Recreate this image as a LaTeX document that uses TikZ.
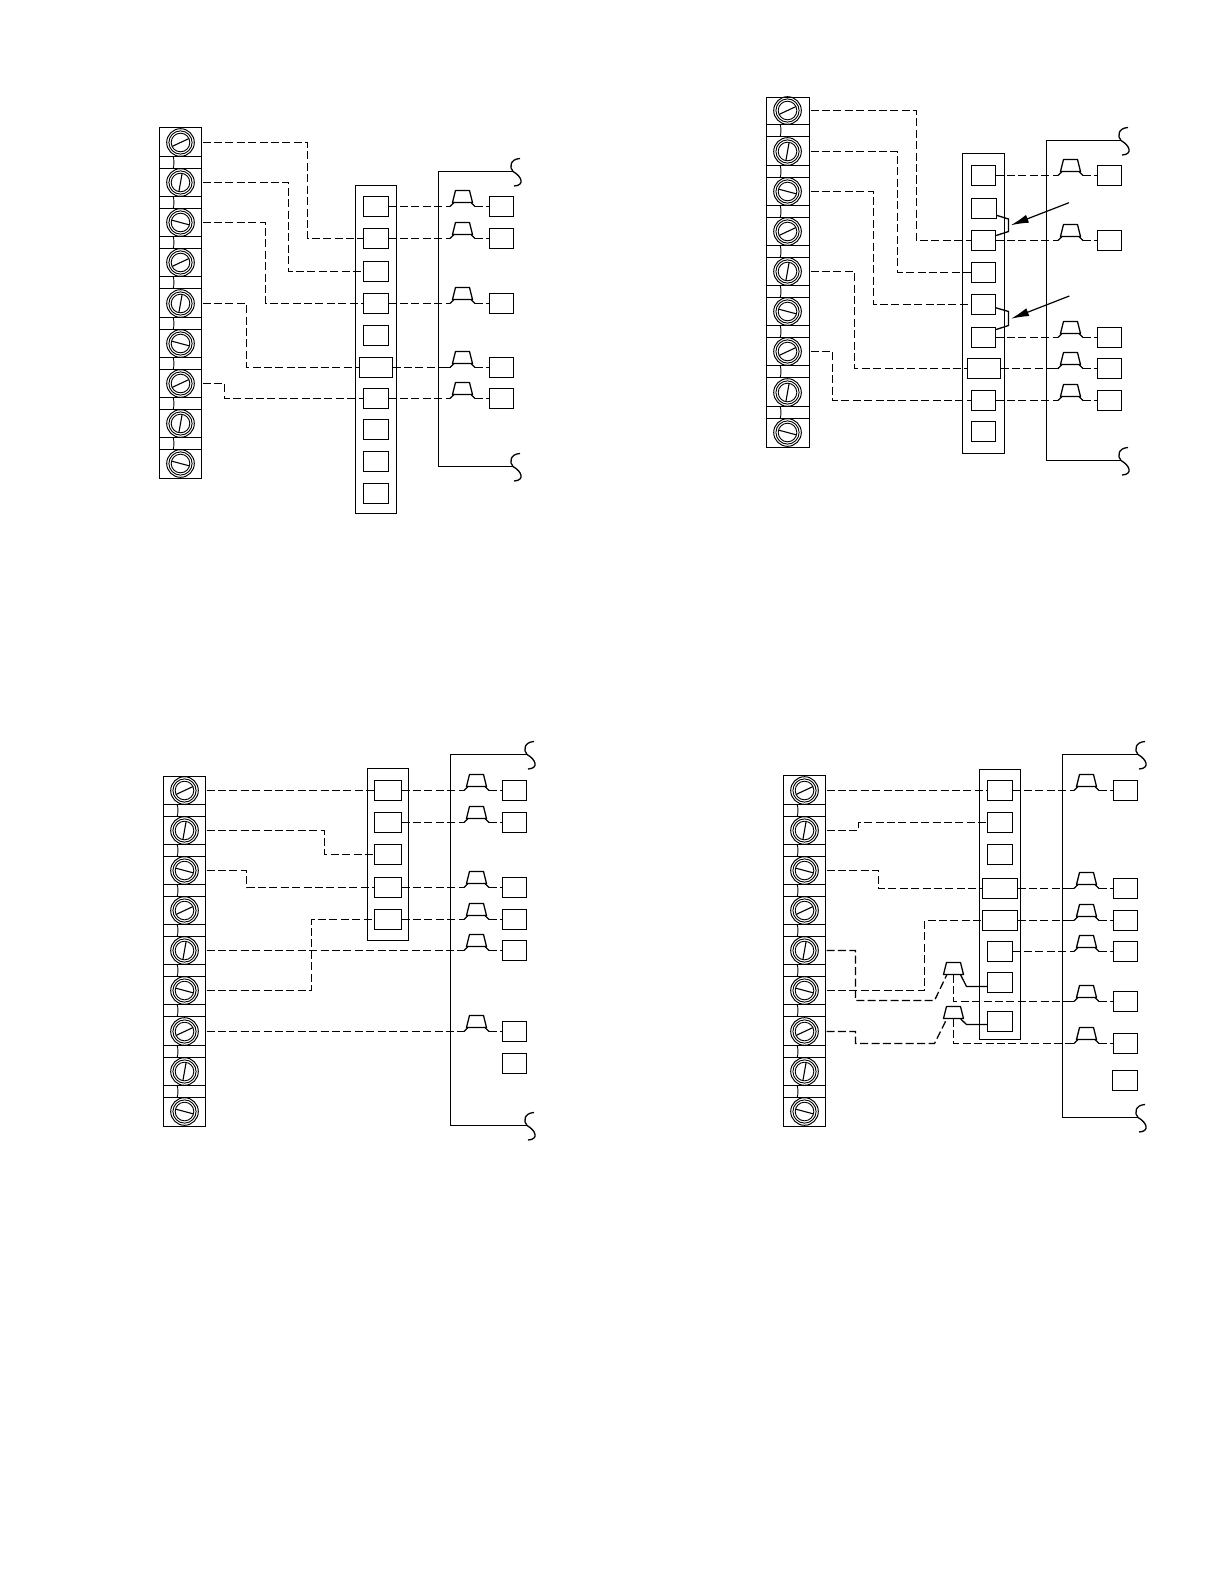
\documentclass[tikz,border=0pt]{standalone}
\usetikzlibrary{arrows.meta}
\tikzset{
  ln/.style={line width=0.65pt,black},
  thinln/.style={line width=0.45pt,black},
  wire/.style={line width=0.65pt,black,dash pattern=on 4pt off 1.7pt},
  boxn/.style={draw,line width=0.65pt,rectangle,inner sep=0pt,outer sep=0pt},
  screwn/.style={draw,line width=0.5pt,circle,inner sep=0pt,outer sep=0pt,minimum size=13.8pt},
  pointer/.style={line width=0.6pt,-{Latex[length=9pt,width=4.2pt]}}
}
% snap a pixel value to a pixel centre
\newcommand{\snapto}[2]{\pgfmathsetmacro{#1}{floor(#2)+0.5}}
% box as a named node: name, x1, y1, x2, y2 (pixels)
\newcommand{\bx}[5]{%
  \snapto{\xa}{#2}\snapto{\xb}{#4}\snapto{\yc}{(#3+#5)/2}%
  \pgfmathsetmacro{\hh}{2*round((#5-#3)/2)}%
  \node[boxn,minimum width={(\xb-\xa)*0.5pt},minimum height={\hh*0.5pt}] (#1) at ({(\xa+\xb)/2},\yc) {};}
% terminal strip: prefix, x left, x right, y top, y of first screw, y bottom
\newcommand{\tstrip}[6]{%
  \snapto{\xa}{#2}\snapto{\xb}{#3}\snapto{\ya}{#4}\snapto{\yb}{#6}%
  \draw[ln] (\xa,\ya) rectangle (\xb,\yb);
  \foreach \k/\a in {1/25,2/80,3/-15,4/25,5/80,6/-15,7/25,8/80,9/-15}{
    \snapto{\cy}{#5+40.2*(\k-1)}
    \node[screwn] (#1\k) at ({\xa+21},\cy) {};
    \draw[thinln] (#1\k.center) circle [radius=11.6];
    \draw[thinln] (#1\k.center) circle [radius=9.3];
    \draw[thinln,line width=0.55pt] ([shift={({9.3*cos(\a)},{-9.3*sin(\a)})}]#1\k.center) -- ([shift={({-9.3*cos(\a)},{9.3*sin(\a)})}]#1\k.center);
    \coordinate (#1\k o) at ({\xb+1},\cy);
    \ifnum\k<9
      \draw[ln] (\xa,{\cy+14}) -- (\xb,{\cy+14});
      \draw[ln] (\xa,{\cy+26}) -- (\xb,{\cy+26});
      \draw[thinln] ({\xa+13.7},{\cy+14}) .. controls ({\xa+14.7},{\cy+18}) and ({\xa+14.7},{\cy+22}) .. ({\xa+13.7},{\cy+26});
    \fi
  }
}
% wire breaking end: x, y of the bus end
\newcommand{\squig}[2]{\draw[ln] ({#1+7},{#2-13}) .. controls ({#1-3},{#2-12.5}) and ({#1-4},{#2-4}) .. (#1,#2) .. controls ({#1+9},{#2+5}) and ({#1+12},{#2+14}) .. ({#1+1},{#2+14.5});}
% bus: x, y top, y bottom, x end
\newcommand{\bus}[4]{\draw[ln] (#4,#2) -- (#1,#2) -- (#1,#3) -- (#4,#3); \squig{#4}{#2} \squig{#4}{#3}}
% trapezoid: centre x, wire y
\newcommand{\trap}[2]{\draw[ln,line join=round] ({#1-7},{#2-16}) -- ({#1+7},{#2-16}) -- ({#1+10},{#2-4}) -- ({#1-10},{#2-4}) -- cycle;}
% relay: name, centre x, wire y
\newcommand{\relay}[3]{\snapto{\yr}{#3}\trap{#2}{\yr}
  \coordinate (#1w) at ({#2-12.5},\yr); \coordinate (#1e) at ({#2+12.5},\yr);
  \draw[ln] (#1w) -- ++(-4,0); \draw[ln] (#1w) -- ++(4,-4);
  \draw[ln] (#1e) -- ++(3,0); \draw[ln] (#1e) -- ++(-4,-4);}
% route: from, x of vertical run, to
\newcommand{\route}[3]{\snapto{\xr}{#2}\coordinate (tmpx) at (\xr,0); \draw[wire] (#1) -- (#1 -| tmpx) |- (#3);}
% box - relay - box row
\newcommand{\thru}[3]{\draw[wire] (#1.east) -- (#2w); \draw[wire] (#2e) -- (#3.west);}
\begin{document}
\begin{tikzpicture}[x=0.5pt,y=-0.5pt]
\useasboundingbox (0,0) rectangle (1224,1584);

%% ---------- Panel A (top left) ----------
\tstrip{A}{159.4}{201.6}{127}{142.3}{478.3}
\bx{Ac}{355.7}{185.5}{396.3}{513}
\bx{Aa}{363.3}{196.3}{388.7}{216.3}
\bx{Ab}{363.3}{228.3}{388.7}{248.3}
\bx{Ad}{363.3}{261.3}{388.7}{281.3}
\bx{Ae}{363.3}{293.3}{388.7}{313.3}
\bx{Af}{363.3}{325.3}{388.7}{345.3}
\bx{Ag}{359.5}{357.5}{392}{377.5}
\bx{Ah}{363.3}{388}{388.7}{408}
\bx{Ai}{363.3}{419.5}{388.7}{440}
\bx{Aj}{363.3}{451.5}{388.7}{471.5}
\bx{Ak}{363.3}{483.7}{388.7}{504}
\bus{438.5}{171.5}{466.5}{513}
\bx{Ar1}{489.3}{196.3}{513.7}{216.3}
\bx{Ar2}{489.3}{228.3}{513.7}{248.3}
\bx{Ar3}{489.3}{293.3}{513.7}{313.3}
\bx{Ar4}{489.3}{357.5}{513.7}{377.5}
\bx{Ar5}{489.3}{388}{513.7}{408}
\relay{AR1}{462.5}{206.3}
\relay{AR2}{462.5}{238.3}
\relay{AR3}{462.5}{303.3}
\relay{AR4}{462.5}{367.5}
\relay{AR5}{462.5}{398}
\thru{Aa}{AR1}{Ar1}
\thru{Ab}{AR2}{Ar2}
\thru{Ae}{AR3}{Ar3}
\thru{Ag}{AR4}{Ar4}
\thru{Ah}{AR5}{Ar5}
\route{A1o}{307.3}{Ab.west}
\route{A2o}{288.3}{Ad.west}
\route{A3o}{265.7}{Ae.west}
\route{A5o}{246.7}{Ag.west}
\route{A7o}{224}{Ah.west}

%% ---------- Panel B (top right) ----------
\tstrip{B}{766.4}{809}{97.3}{110.8}{447.3}
\bx{Bc}{962.7}{154.3}{1004.3}{453.4}
\bx{Ba}{971.3}{165.3}{995.7}{185.3}
\bx{Bb}{971.3}{198.3}{996.7}{218.3}
\bx{Bd}{971.3}{230.3}{995.7}{250.3}
\bx{Be}{971.3}{262.3}{995.7}{282.3}
\bx{Bf}{971.3}{294.3}{995.7}{314.3}
\bx{Bg}{971.3}{327.3}{995.7}{347.3}
\bx{Bh}{967.5}{358}{1000}{378}
\bx{Bi}{971.3}{390}{995.7}{410}
\bx{Bj}{971.3}{421.5}{995.7}{441.5}
\bus{1046.5}{140.5}{460.5}{1121}
\bx{Br1}{1097.3}{165.3}{1121.7}{185.3}
\bx{Br2}{1097.3}{230.3}{1121.7}{250.3}
\bx{Br3}{1097.3}{327.3}{1121.7}{347.3}
\bx{Br4}{1097.3}{358}{1121.7}{378}
\bx{Br5}{1097.3}{390}{1121.7}{410}
\relay{BR1}{1070.5}{175.3}
\relay{BR2}{1070.5}{240.3}
\relay{BR3}{1070.5}{337.3}
\relay{BR4}{1070.5}{368}
\relay{BR5}{1070.5}{400}
\thru{Ba}{BR1}{Br1}
\thru{Bd}{BR2}{Br2}
\thru{Bg}{BR3}{Br3}
\thru{Bh}{BR4}{Br4}
\thru{Bi}{BR5}{Br5}
\route{B1o}{916}{Bd.west}
\route{B2o}{897}{Be.west}
\route{B3o}{873.5}{Bf.west}
\route{B5o}{854.5}{Bh.west}
\route{B7o}{832}{Bi.west}
\draw[ln] ([yshift=1.6pt]Bb.south east) -- (1008.5,219) -- (1008.5,231.5) -- ([yshift=-2.6pt]Bd.north east);
\draw[ln] ([yshift=3.4pt]Bf.south east) -- (1008.5,311.5) -- (1008.5,325.5) -- ([yshift=-1.1pt]Bg.north east);
\coordinate (Bp1s) at (1069,202.7); \coordinate (Bp1e) at (1010.7,225.3);
\coordinate (Bp2s) at (1069.3,296); \coordinate (Bp2e) at (1011,318.7);
\draw[pointer] (Bp1s) -- (Bp1e);
\draw[pointer] (Bp2s) -- (Bp2e);

%% ---------- Panel C (bottom left) ----------
\tstrip{C}{163.4}{205.4}{776.7}{790}{1126}
\bx{Cc}{367.6}{768.5}{408}{941}
\bx{Ca}{374.7}{780}{401}{800}
\bx{Cb}{374.7}{812}{401}{832}
\bx{Cd}{374.7}{844}{401}{864.5}
\bx{Ce}{374.7}{877}{401}{897}
\bx{Cf}{374.7}{909.5}{401}{929.5}
\bus{450.5}{754.5}{1125.5}{527}
\bx{Cr1}{502}{780}{526}{800}
\bx{Cr2}{502}{812}{526}{832}
\bx{Cr3}{502}{877.5}{526}{897.5}
\bx{Cr4}{502}{909.5}{526}{929.5}
\bx{Cr5}{502}{941}{526}{960.6}
\bx{Cr6}{502}{1021}{526}{1041}
\bx{Cr7}{502}{1053.5}{526}{1073.5}
\relay{CR1}{476.5}{790}
\relay{CR2}{476.5}{822}
\relay{CR3}{476.5}{887.5}
\relay{CR4}{476.5}{919.5}
\relay{CR5}{476.5}{950.8}
\relay{CR6}{476.5}{1031}
\thru{Ca}{CR1}{Cr1}
\thru{Cb}{CR2}{Cr2}
\thru{Ce}{CR3}{Cr3}
\thru{Cf}{CR4}{Cr4}
\draw[wire] (CR5e) -- (Cr5.west);
\draw[wire] (CR6e) -- (Cr6.west);
\draw[wire] (C1o) -- (Ca.west);
\route{C2o}{324}{Cd.west}
\route{C3o}{246.4}{Ce.west}
\route{C6o}{311}{Cf.west}
\draw[wire] (C5o) -- (CR5w);
\draw[wire] (C7o) -- (CR6w);

%% ---------- Panel D (bottom right) ----------
\tstrip{D}{783.4}{825.4}{775.5}{790}{1126}
\bx{Dc}{979.7}{769.5}{1020.3}{1040.3}
\bx{Da}{987.3}{780}{1012.7}{800}
\bx{Db}{987.3}{812}{1012.7}{832}
\bx{Dd}{987.3}{844}{1012.7}{864.5}
\bx{De}{982.3}{878}{1017.7}{898}
\bx{Df}{982.3}{910}{1017.7}{930.3}
\bx{Dg}{987.3}{941.3}{1012.7}{961.3}
\bx{Dh}{987.3}{972.3}{1012.7}{992.3}
\bx{Di}{987.3}{1011.3}{1012.7}{1031.3}
\bus{1062.5}{754.5}{1117.5}{1138}
\bx{Dr1}{1113.3}{780}{1137.7}{800}
\bx{Dr2}{1113.3}{878}{1137.7}{898}
\bx{Dr3}{1113.3}{910}{1137.7}{930}
\bx{Dr4}{1113.3}{941}{1137.7}{961}
\bx{Dr5}{1113.3}{991.3}{1137.7}{1011.3}
\bx{Dr6}{1113.3}{1033.3}{1137.7}{1053.3}
\bx{Dr7}{1112.3}{1070.3}{1137.7}{1090.3}
\relay{DR1}{1086.5}{790}
\relay{DR2}{1086.5}{888}
\relay{DR3}{1086.5}{920}
\relay{DR4}{1086.5}{951.3}
\relay{DR5}{1086.5}{1001.3}
\relay{DR6}{1086.5}{1043.3}
\thru{Da}{DR1}{Dr1}
\thru{De}{DR2}{Dr2}
\thru{Df}{DR3}{Dr3}
\thru{Dg}{DR4}{Dr4}
\draw[wire] (DR5e) -- (Dr5.west);
\draw[wire] (DR6e) -- (Dr6.west);
\draw[wire] (D1o) -- (Da.west);
\route{D2o}{858.4}{Db.west}
\route{D3o}{878.6}{De.west}
\route{D6o}{924.3}{Df.west}
% small left relays
\trap{953.5}{978.5}
\trap{953.5}{1022.5}
\coordinate (DLu) at (953.5,974.5); \coordinate (DLl) at (953.5,1018.5);
\coordinate (DLua) at (946.7,975); \coordinate (DLub) at (934.5,1000.5);
\coordinate (DLla) at (946.7,1019); \coordinate (DLlb) at (934.5,1043.5);
\coordinate (x5) at (855.5,0);
\draw[wire] (D5o) -- (D5o -| x5) |- (DLub) -- (DLua);
\draw[wire] (D7o) -- (D7o -| x5) |- (DLlb) -- (DLla);
\draw[wire] (DLu) |- (DR5w);
\draw[wire] (DLl) |- (DR6w);
\draw[ln] (960.7,975) -- (966.5,986.5) -- (Dh.west |- 0,986.5);
\draw[ln] (960.7,1019) -- (966.5,1024.5) -- (Di.west |- 0,1024.5);
\end{tikzpicture}
\end{document}
